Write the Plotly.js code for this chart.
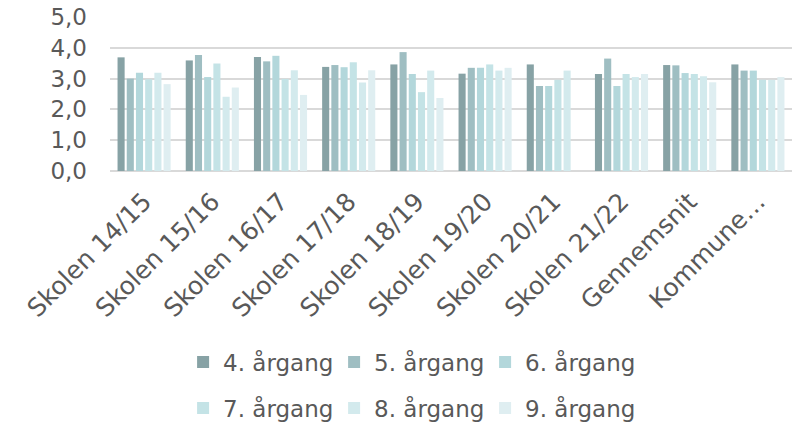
<!DOCTYPE html>
<html>
<head>
<meta charset="utf-8">
<script src="https://cdn.plot.ly/plotly-3.0.1.min.js"></script>
<style>html,body{margin:0;padding:0;background:#fff;}#chart{width:800px;height:424px;}</style>
</head>
<body>
<div id="chart"></div>
<script>
const categories = ["Skolen 14/15","Skolen 15/16","Skolen 16/17","Skolen 17/18","Skolen 18/19","Skolen 19/20","Skolen 20/21","Skolen 21/22","Gennemsnit","Kommune…"];
const seriesNames = ["4. årgang","5. årgang","6. årgang","7. årgang","8. årgang","9. årgang"];
const g4 = [3.69, 3.59, 3.70, 3.38, 3.46, 3.16, 3.46, 3.15, 3.44, 3.46];
const g5 = [3.00, 3.77, 3.56, 3.44, 3.86, 3.35, 2.76, 3.65, 3.43, 3.26];
const g6 = [3.19, 3.05, 3.74, 3.37, 3.15, 3.35, 2.76, 2.76, 3.18, 3.26];
const g7 = [2.98, 3.49, 2.99, 3.53, 2.56, 3.46, 2.96, 3.15, 3.15, 2.96];
const g8 = [3.19, 2.41, 3.27, 2.87, 3.26, 3.26, 3.26, 3.05, 3.08, 2.96];
const g9 = [2.82, 2.71, 2.47, 3.27, 2.37, 3.35, null, 3.15, 2.88, 3.05];
const yTicks = [0, 1, 2, 3, 4, 5];

const seriesValues = [g4, g5, g6, g7, g8, g9];
const colors = ["#87a2a5", "#9fbec2", "#b3d7db", "#c4e3e6", "#d3eaed", "#dfeef1"];
const font = {family: "DejaVu Sans, Verdana, sans-serif", size: 23, color: "#595959"};

const traces = seriesValues.map((vals, i) => ({
  type: "bar",
  name: seriesNames[i],
  x: categories,
  y: vals,
  marker: {color: colors[i]},
  legend: i < 3 ? "legend" : "legend2",
  hoverinfo: "skip"
}));

const legendCommon = {
  orientation: "h",
  xref: "container", yref: "container",
  xanchor: "center", yanchor: "middle",
  font: font,
  entrywidth: 106,
  itemclick: false,
  bgcolor: "rgba(0,0,0,0)",
  traceorder: "normal"
};

const layout = {
  width: 800, height: 424,
  margin: {l: 110, r: 8, t: 17, b: 253},
  paper_bgcolor: "#ffffff",
  plot_bgcolor: "#ffffff",
  font: font,
  separators: ",.",
  barmode: "group",
  bargap: 0.19,
  bargroupgap: 0.23,
  showlegend: true,
  legend: Object.assign({}, legendCommon, {x: 0.512, y: 1 - 362/424}),
  legend2: Object.assign({}, legendCommon, {x: 0.512, y: 1 - 408/424}),
  xaxis: {
    type: "category",
    tickangle: -45,
    tickfont: {family: font.family, size: 25, color: font.color},
    showgrid: false,
    showline: false,
    ticks: "",
    ticklabelstandoff: 10,
    zeroline: false
  },
  yaxis: {
    range: [0, 5],
    tickvals: yTicks,
    tickformat: ".1f",
    tickfont: font,
    showgrid: true,
    gridcolor: "#d9d9d9",
    gridwidth: 2,
    zeroline: true,
    zerolinecolor: "#d9d9d9",
    zerolinewidth: 2,
    showline: false,
    ticks: "",
    ticklabelstandoff: 22,
    fixedrange: true
  }
};

Plotly.newPlot("chart", traces, layout, {displayModeBar: false, staticPlot: true});
</script>
</body>
</html>
